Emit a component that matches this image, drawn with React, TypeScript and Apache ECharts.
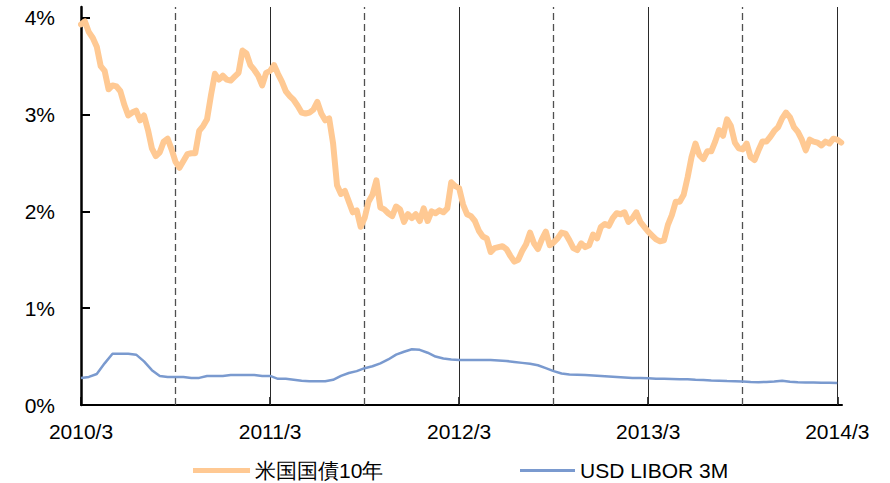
import React, { useEffect, useRef } from "react";
import * as echarts from "echarts";

// months since 2010/3, sampled every 0.25 month (orange) / 0.5 month (blue)
const US10Y_STEP = 0.25;
const LIBOR_STEP = 0.5;

const us10y = [
  3.93, 3.96, 3.85, 3.79, 3.70, 3.50, 3.45, 3.26, 3.30, 3.29,
  3.24, 3.10, 2.99, 3.02, 3.04, 2.94, 2.99, 2.84, 2.65, 2.57,
  2.61, 2.72, 2.75, 2.64, 2.51, 2.45, 2.52, 2.59, 2.60, 2.60,
  2.83, 2.88, 2.95, 3.20, 3.42, 3.36, 3.40, 3.36, 3.35, 3.39,
  3.43, 3.66, 3.63, 3.51, 3.46, 3.40, 3.30, 3.43, 3.45, 3.51,
  3.42, 3.34, 3.24, 3.19, 3.15, 3.09, 3.02, 3.01, 3.02, 3.05,
  3.13, 3.01, 2.94, 2.96, 2.70, 2.27, 2.18, 2.21, 2.10, 1.99,
  2.01, 1.84, 1.93, 2.10, 2.17, 2.32, 2.04, 2.02, 1.98, 1.95,
  2.05, 2.02, 1.89, 1.97, 1.93, 1.97, 1.90, 2.03, 1.90, 2.00,
  1.98, 2.01, 1.99, 2.03, 2.30, 2.26, 2.24, 2.07, 1.97, 1.95,
  1.90, 1.80, 1.74, 1.72, 1.58, 1.62, 1.63, 1.64, 1.61, 1.54,
  1.48, 1.50, 1.59, 1.66, 1.78, 1.67, 1.61, 1.71, 1.79, 1.65,
  1.68, 1.72, 1.78, 1.77, 1.70, 1.62, 1.60, 1.67, 1.63, 1.65,
  1.76, 1.72, 1.84, 1.87, 1.85, 1.93, 1.98, 1.97, 1.99, 1.89,
  1.93, 1.99, 1.89, 1.84, 1.79, 1.75, 1.71, 1.69, 1.70, 1.86,
  1.96, 2.10, 2.10, 2.17, 2.35, 2.56, 2.70, 2.58, 2.54, 2.62,
  2.62, 2.72, 2.84, 2.78, 2.95, 2.88, 2.71, 2.65, 2.64, 2.70,
  2.56, 2.53, 2.63, 2.72, 2.72, 2.77, 2.83, 2.87, 2.96, 3.02,
  2.97, 2.87, 2.82, 2.74, 2.63, 2.74, 2.72, 2.71, 2.68, 2.72,
  2.70, 2.75, 2.74, 2.71,
];

const libor3m = [
  0.28, 0.29, 0.32, 0.43, 0.53, 0.53, 0.53, 0.52, 0.45, 0.36,
  0.30, 0.29, 0.29, 0.29, 0.28, 0.28, 0.30, 0.30, 0.30, 0.31,
  0.31, 0.31, 0.31, 0.30, 0.30, 0.27, 0.27, 0.26, 0.25, 0.245,
  0.245, 0.245, 0.26, 0.30, 0.33, 0.35, 0.38, 0.40, 0.43, 0.47,
  0.52, 0.55, 0.575, 0.57, 0.54, 0.50, 0.48, 0.47, 0.465, 0.465,
  0.465, 0.465, 0.465, 0.46, 0.455, 0.445, 0.435, 0.425, 0.41, 0.38,
  0.35, 0.325, 0.315, 0.313, 0.31, 0.305, 0.30, 0.295, 0.29, 0.285,
  0.28, 0.278, 0.275, 0.272, 0.27, 0.268, 0.266, 0.265, 0.26, 0.257,
  0.253, 0.25, 0.247, 0.245, 0.242, 0.238, 0.236, 0.238, 0.242, 0.25,
  0.24, 0.235, 0.233, 0.232, 0.23, 0.23, 0.228,
];

const yearTicks = [0, 12, 24, 36, 48];
const yearLabels = ["2010/3", "2011/3", "2012/3", "2013/3", "2014/3"];
const halfYearTicks = [6, 18, 30, 42];
const yTicks = [0, 1, 2, 3, 4];

const FONT = "'Liberation Sans', Arial, sans-serif";

export default function App() {
  const ref = useRef<HTMLDivElement>(null);
  useEffect(() => {
    if (!ref.current) return;
    const chart = echarts.init(ref.current, undefined, { renderer: "svg" });
    const vlines = [
      ...yearTicks.slice(1).map((x) => ({
        xAxis: x,
        lineStyle: { color: "#2a2a2a", width: 1, type: "solid" as const },
      })),
      ...halfYearTicks.map((x) => ({
        xAxis: x,
        lineStyle: { color: "#505050", width: 1.3, type: [7, 4] as any },
      })),
    ];
    chart.setOption({
      animation: false,
      textStyle: { fontFamily: FONT },
      grid: {
        left: 81,
        right: 48,
        top: 7,
        bottom: 78,
        containLabel: false,
        outerBoundsMode: "none",
      },
      legend: [
        {
          data: ["米国国債10年"],
          left: 188,
          top: 455,
          icon: "rect",
          itemWidth: 57,
          itemHeight: 5,
          textStyle: { fontSize: 21, color: "#000", fontFamily: FONT },
        },
        {
          data: ["USD LIBOR 3M"],
          left: 515,
          top: 455,
          icon: "rect",
          itemWidth: 55,
          itemHeight: 3,
          textStyle: { fontSize: 21, color: "#000", fontFamily: FONT },
        },
      ],
      xAxis: {
        type: "value",
        min: 0,
        max: 48.3,
        splitLine: { show: false },
        axisLine: { show: true, lineStyle: { color: "#000", width: 2 } },
        axisTick: {
          show: true,
          inside: true,
          length: 8,
          customValues: yearTicks,
          lineStyle: { color: "#000", width: 1.5 },
        },
        axisLabel: {
          customValues: yearTicks,
          formatter: (v: number) => yearLabels[yearTicks.indexOf(Math.round(v))] ?? "",
          fontSize: 21,
          color: "#000",
          margin: 16,
          fontFamily: FONT,
        },
      },
      yAxis: {
        type: "value",
        min: 0,
        max: 4.11,
        splitLine: { show: false },
        axisLine: { show: true, lineStyle: { color: "#000", width: 2.5 } },
        axisTick: {
          show: true,
          inside: true,
          length: 9,
          customValues: yTicks,
          lineStyle: { color: "#000", width: 2 },
        },
        axisLabel: {
          customValues: yTicks,
          formatter: (v: number) => `${Math.round(v)}%`,
          fontSize: 21,
          color: "#000",
          margin: 26,
          fontFamily: FONT,
        },
      },
      series: [
        {
          name: "USD LIBOR 3M",
          type: "line",
          data: libor3m.map((v, i) => [i * LIBOR_STEP, v]),
          showSymbol: false,
          symbol: "none",
          color: "#7A9ACF",
          lineStyle: { color: "#7A9ACF", width: 2.5 },
          z: 2,
          markLine: {
            silent: true,
            symbol: ["none", "none"],
            label: { show: false },
            data: vlines,
            z: 1,
          },
        },
        {
          name: "米国国債10年",
          type: "line",
          data: us10y.map((v, i) => [i * US10Y_STEP, v]),
          showSymbol: false,
          symbol: "none",
          color: "#FFC993",
          lineStyle: { color: "#FFC993", width: 6, join: "round", cap: "round" },
          z: 3,
        },
      ],
    });
    return () => chart.dispose();
  }, []);
  return (
    <div
      ref={ref}
      style={{ position: "fixed", left: 0, top: 0, width: 890, height: 483, background: "#fff" }}
    />
  );
}
